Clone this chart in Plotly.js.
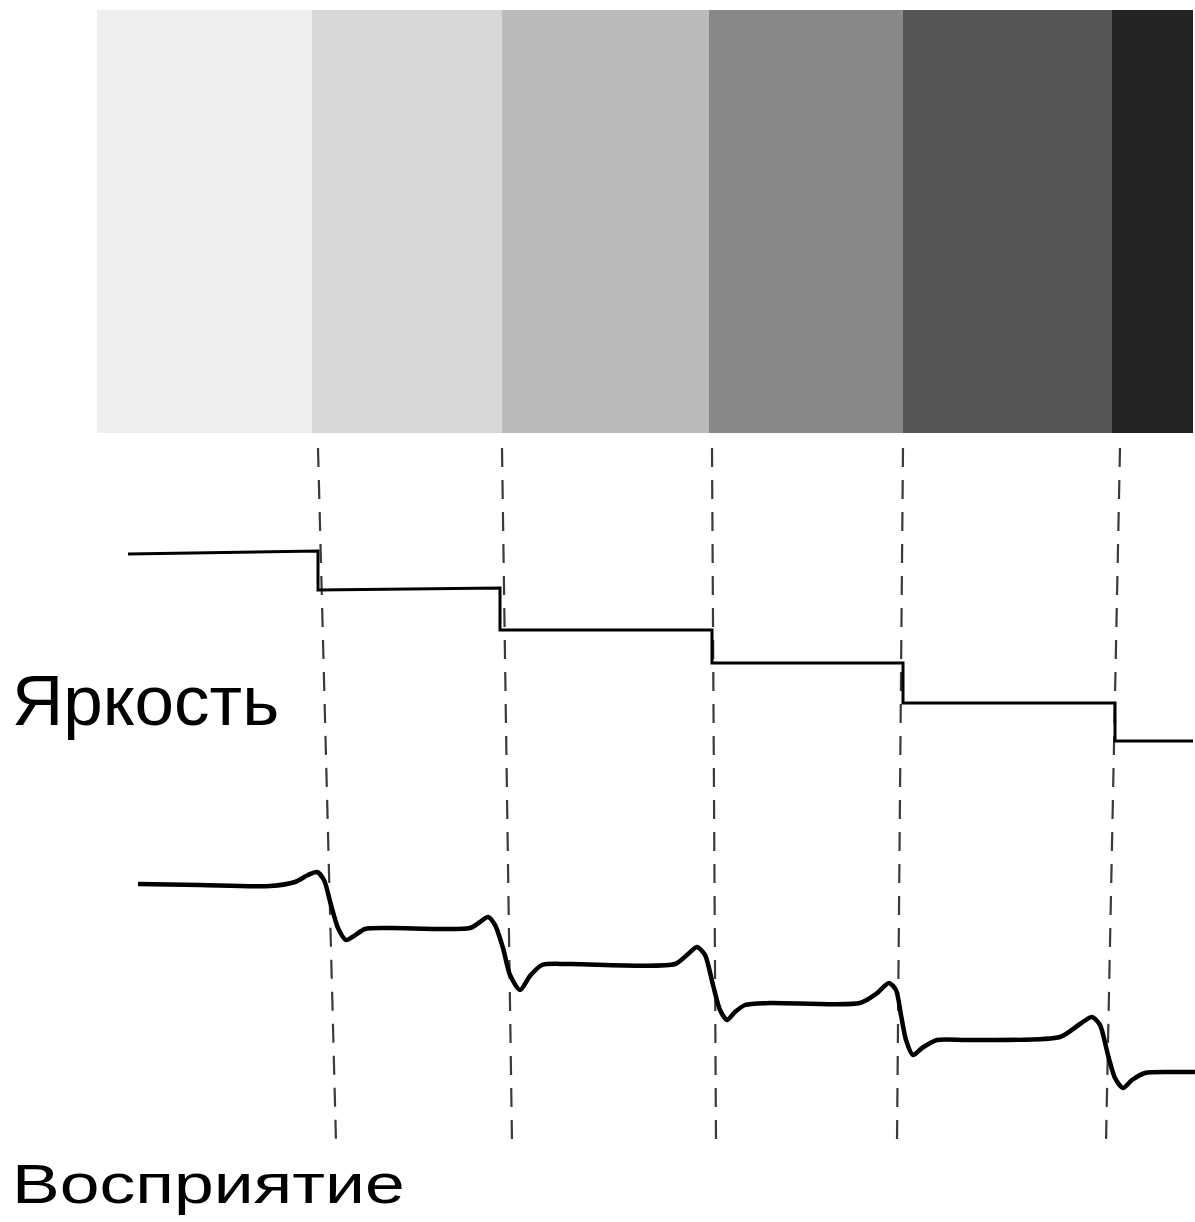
<!DOCTYPE html>
<html>
<head>
<meta charset="utf-8">
<script src="https://cdn.plot.ly/plotly-3.0.1.min.js"></script>
<style>
html,body{margin:0;padding:0;background:#fff;}
#chart{width:1195px;height:1222px;}
</style>
</head>
<body>
<div id="chart"></div>
<script>
// ---- data (position units along the strip, level units downward) ----
const bandEdges = [97, 312, 502, 709, 903, 1112, 1193];
const bandGray  = ['#eeeeee', '#d8d8d8', '#bbbbbb', '#888888', '#555555', '#232323'];
const bandTop = 10, bandBottom = 433;

// physical luminance (step profile)
const lumX = [128, 318, 318, 500, 500, 712, 712, 903, 903, 1115, 1115, 1193];
const lumY = [554, 551, 590, 588, 630, 630, 663, 663, 703, 703, 741, 741];

// perceived brightness (Mach bands)
const perX = [138, 200, 270, 295, 308, 317, 324, 331, 338, 346, 354, 365, 390, 470,
              480, 488, 495, 503, 510, 520, 530, 542, 570, 675,
              688, 697, 705, 713, 720, 727, 735, 745, 770, 860,
              876, 889, 896, 901, 906, 913, 922, 937, 970, 1060,
              1080, 1092, 1100, 1108, 1115, 1123, 1132, 1145, 1170, 1195];
const perY = [884, 885, 886, 882, 875, 872, 880, 905, 928, 940, 936, 929, 928, 928,
              922, 917, 925, 948, 975, 990, 976, 965, 964, 964,
              954, 947, 955, 985, 1010, 1020, 1012, 1005, 1003, 1003,
              994, 983, 990, 1015, 1040, 1055, 1048, 1040, 1040, 1037,
              1024, 1017, 1025, 1055, 1078, 1088, 1080, 1073, 1072, 1072];

// dashed guide lines at each edge (top x, bottom x)
const guideTopX = [318, 502, 712, 903, 1120];
const guideBotX = [336, 512, 716, 897, 1106];
const guideTopY = 448, guideBotY = 1142;

const labels = ['Яркость', 'Восприятие'];
const labelY = [700, 1184];

// ---- traces ----
const traces = [];
const centers = [], widths = [];
for (let i = 0; i < bandGray.length; i++) {
  centers.push((bandEdges[i] + bandEdges[i + 1]) / 2);
  widths.push(bandEdges[i + 1] - bandEdges[i]);
}
traces.push({
  type: 'bar', x: centers, width: widths,
  base: bandGray.map(() => bandTop),
  y: bandGray.map(() => bandBottom - bandTop),
  marker: {color: bandGray, line: {width: 0}},
  hoverinfo: 'skip'
});
for (let i = 0; i < guideTopX.length; i++) {
  traces.push({
    type: 'scatter', mode: 'lines',
    x: [guideTopX[i], guideBotX[i]], y: [guideTopY, guideBotY],
    line: {color: '#3a3a3a', width: 2.2, dash: '19px,13px'},
    hoverinfo: 'skip'
  });
}
traces.push({
  type: 'scatter', mode: 'lines', x: lumX, y: lumY,
  line: {color: '#000', width: 3}, hoverinfo: 'skip'
});
traces.push({
  type: 'scatter', mode: 'lines', x: perX, y: perY,
  line: {color: '#000', width: 4.5, shape: 'spline', smoothing: 0.7}, hoverinfo: 'skip'
});

const layout = {
  width: 1195, height: 1222,
  margin: {l: 0, r: 0, t: 0, b: 0},
  paper_bgcolor: '#fff', plot_bgcolor: '#fff',
  showlegend: false,
  xaxis: {range: [0, 1195], visible: false, fixedrange: true},
  yaxis: {range: [1222, 0], visible: false, fixedrange: true},
  annotations: [
    {x: 10, y: labelY[0], xref: 'x', yref: 'y', xanchor: 'left', yanchor: 'middle',
     text: labels[0], showarrow: false,
     font: {family: 'Liberation Sans, Arial, sans-serif', size: 71, color: '#000'}},
    {x: 10, y: labelY[1], xref: 'x', yref: 'y', xanchor: 'left', yanchor: 'middle',
     text: labels[1], showarrow: false,
     font: {family: 'Liberation Sans, Arial, sans-serif', size: 55, color: '#000'}}
  ]
};

Plotly.newPlot('chart', traces, layout, {staticPlot: true}).then(gd => {
  const t = gd.querySelectorAll('.annotation-text')[1];
  if (t) {
    const bb = t.getBBox();
    t.setAttribute('transform', 'translate(' + bb.x + ',0) scale(1.3,1) translate(' + (-bb.x) + ',0)');
  }
});
</script>
</body>
</html>
